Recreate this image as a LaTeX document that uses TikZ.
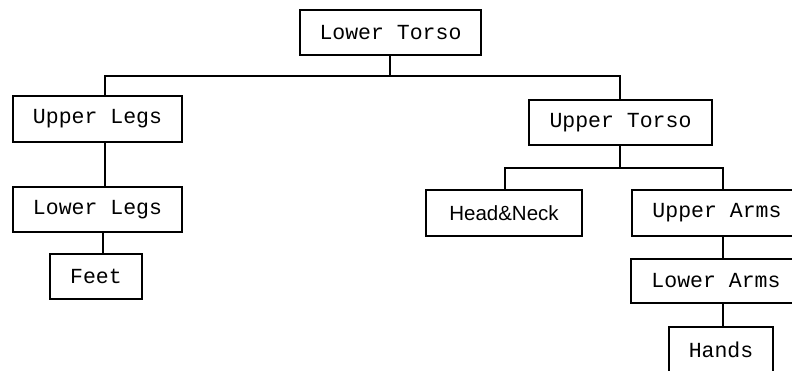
\documentclass[tikz,border=0pt]{standalone}
\usepackage{fontspec}
\setmonofont{Liberation Mono}
\newfontfamily\hnfont{Liberation Sans}
\begin{document}
\begin{tikzpicture}[x=1pt,y=-1pt,
  part/.style={draw,line width=1.3pt,rectangle,inner sep=0pt,
    font=\ttfamily\fontsize{21.5}{25}\selectfont},
  link/.style={line width=1.3pt}]
\useasboundingbox (0,0) rectangle (792,370);
\clip (0,0) rectangle (792,370);
\node[part,minimum width=181pt,minimum height=45pt] (LT) at (390.5,32.5) {Lower Torso};
\node[part,minimum width=169pt,minimum height=46pt] (UL) at (97.5,119) {Upper Legs};
\node[part,minimum width=183pt,minimum height=45pt] (UT) at (620.5,122.5) {Upper Torso};
\node[part,minimum width=169pt,minimum height=45pt] (LL) at (97.5,209.5) {Lower Legs};
\node[part,minimum width=92pt,minimum height=45pt] (FT) at (96,276.5) {Feet};
\node[part,minimum width=156pt,minimum height=46pt,font=\hnfont\fontsize{20.5}{24}\selectfont] (HN) at (504,213) {Head\&Neck};
\node[part,minimum width=170pt,minimum height=46pt] (UA) at (717,213) {Upper Arms};
\node[part,minimum width=170pt,minimum height=44pt] (LA) at (716,281) {Lower Arms};
\node[part,minimum width=104pt,minimum height=46pt] (HA) at (721,350) {Hands};
% junctions
\coordinate (j0) at (390,76);
\coordinate (jL) at (105,76);
\coordinate (jR) at (620,76);
\coordinate (k0) at (620,168);
\coordinate (kL) at (505,168);
\coordinate (kR) at (723,168);
\draw[link] (LT.south -| j0) -- (j0);
\draw[link] (UL.north -| jL) -- (jL) -- (jR) -- (UT.north -| jR);
\draw[link] (UL.south -| jL) -- (LL.north -| jL);
\coordinate (jF) at (103,240);
\draw[link] (LL.south -| jF) -- (FT.north -| jF);
\draw[link] (UT.south -| k0) -- (k0);
\draw[link] (HN.north -| kL) -- (kL) -- (kR) -- (UA.north -| kR);
\draw[link] (UA.south -| kR) -- (LA.north -| kR);
\draw[link] (LA.south -| kR) -- (HA.north -| kR);
\end{tikzpicture}
\end{document}
